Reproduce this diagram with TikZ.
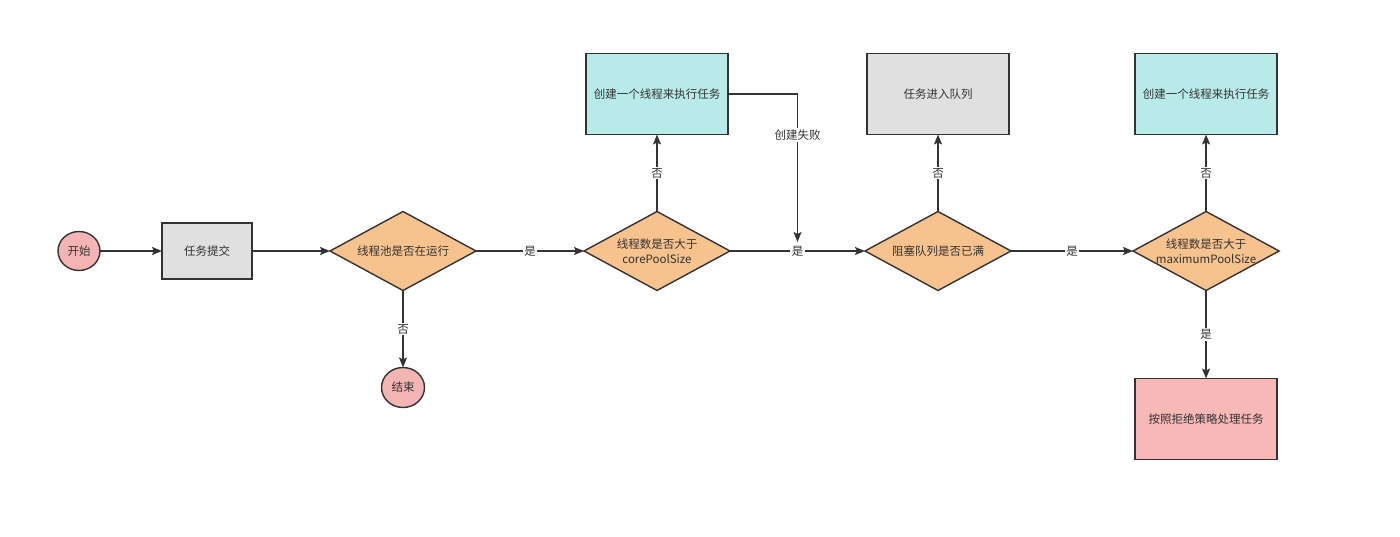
\documentclass[tikz,border=0pt]{standalone}
\usepackage{fontspec}
\setmainfont{Noto Sans CJK SC}
\usepackage{xcolor}
\usepackage{tikz}
\usetikzlibrary{shapes.geometric, arrows.meta, positioning, calc}

\definecolor{txt}{HTML}{333333}
\definecolor{grayfill}{HTML}{E0E0E0}
\definecolor{cyanfill}{HTML}{B9EAEA}
\definecolor{pinkfill}{HTML}{F8B8B8}
\definecolor{termfill}{HTML}{F4B4B4}
\definecolor{decfill}{HTML}{F6C28E}

\begin{document}
\begin{tikzpicture}[
      x=1pt, y=1pt,
      font=\fontsize{11.5}{15}\selectfont, text=txt,
      box/.style={draw=txt, line width=1.4pt, minimum width=142pt, minimum height=81pt, align=center, inner sep=0pt, outer sep=0pt},
      gbox/.style={box, fill=grayfill},
      cbox/.style={box, fill=cyanfill},
      pbox/.style={box, fill=pinkfill},
      dec/.style={diamond, draw=txt, line width=1.4pt, fill=decfill, shape aspect=1.85, minimum width=146pt, minimum height=79pt, inner sep=0pt, outer sep=0pt, align=center},
      term/.style={ellipse, draw=txt, line width=1.4pt, fill=termfill, minimum width=42pt, minimum height=39pt, inner sep=0pt, outer sep=0pt},
      arr/.style={-{Stealth[length=10pt, width=8pt, inset=2pt]}, draw=txt, line width=1.4pt},
      lbl/.style={fill=white, inner sep=1.5pt},
    ]
    \useasboundingbox (0,0) rectangle (1400,536);

    \node[term] (start) at (79,285) {开始};
    \node[gbox, right=62pt of start, minimum width=90pt, minimum height=56pt] (submit) {任务提交};
    \node[dec, right=78pt of submit] (chkrun) {线程池是否在运行};
    \node[dec, right=108pt of chkrun] (chkcore) {线程数是否大于\\corePoolSize};
    \node[dec, right=135pt of chkcore] (chkqueue) {阻塞队列是否已满};
    \node[dec, right=122pt of chkqueue] (chkmax) {线程数是否大于\\maximumPoolSize};

    \node[cbox, above=77pt of chkcore] (newthr1) {创建一个线程来执行任务};
    \node[gbox, above=77pt of chkqueue] (queue) {任务进入队列};
    \node[cbox, above=77pt of chkmax] (newthr2) {创建一个线程来执行任务};
    \node[term, below=77pt of chkrun, minimum width=43pt, minimum height=40pt] (stop) {结束};
    \node[pbox, below=88pt of chkmax] (reject) {按照拒绝策略处理任务};

    \coordinate (join) at ($(chkcore.east)!0.5!(chkqueue.west)$);

    \draw[arr] (start) -- (submit);
    \draw[arr] (submit) -- (chkrun);
    \draw[arr] (chkrun) -- node[lbl]{是} (chkcore);
    \draw[arr] (chkrun) -- node[lbl]{否} (stop);
    \draw[arr] (chkcore) -- node[lbl]{否} (newthr1);
    \draw[arr] (chkcore) -- node[lbl]{是} (chkqueue);
    \draw[arr, shorten >=9pt] (newthr1.east) -| node[lbl, pos=0.63]{创建失败} (join);
    \draw[arr] (chkqueue) -- node[lbl]{否} (queue);
    \draw[arr] (chkqueue) -- node[lbl]{是} (chkmax);
    \draw[arr] (chkmax) -- node[lbl]{否} (newthr2);
    \draw[arr] (chkmax) -- node[lbl]{是} (reject);
  \end{tikzpicture}
\end{document}
